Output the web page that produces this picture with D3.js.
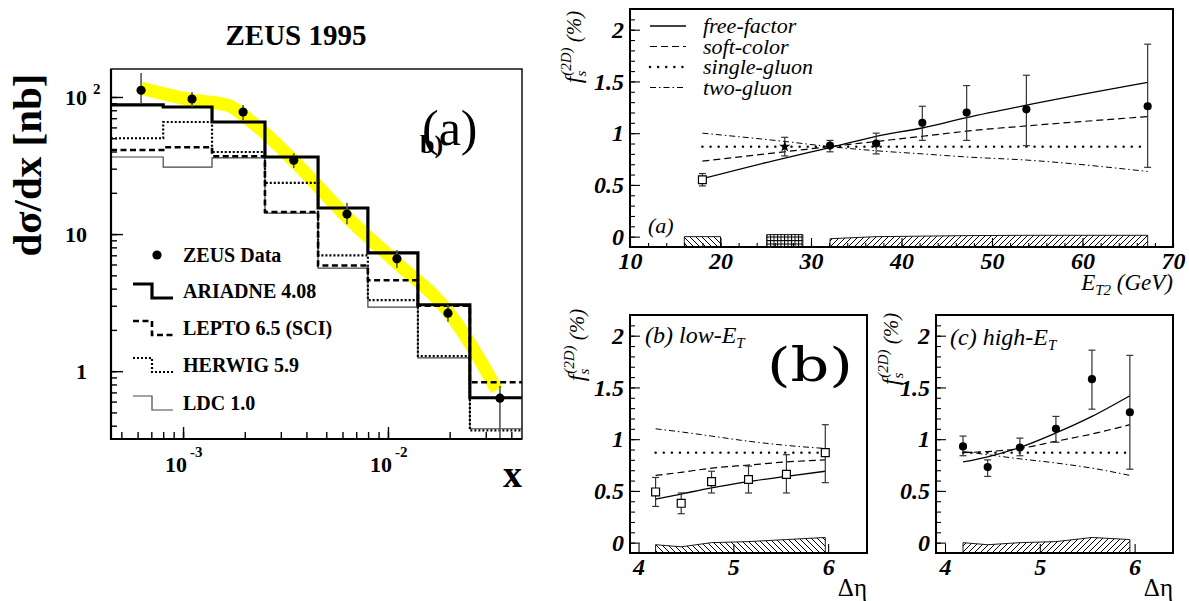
<!DOCTYPE html>
<html>
<head>
<meta charset="utf-8">
<script src="https://cdn.jsdelivr.net/npm/d3@7"></script>
<style>
body { margin: 0; background: #fff; }
svg { display: block; font-family: "Liberation Serif", "Times New Roman", serif; }
</style>
</head>
<body>
<div id="chart"></div>
<script>
// ---- left panel: ZEUS 1995 d(sigma)/dx ----
var binEdges = [4.45e-4, 8.0e-4, 1.385e-3, 2.51e-3, 4.56e-3, 7.98e-3, 1.40e-2, 2.51e-2, 4.51e-2];
var zeusX  = [6.24e-4, 1.106e-3, 1.963e-3, 3.47e-3, 6.31e-3, 1.106e-2, 1.963e-2, 3.52e-2];
var zeusY  = [112, 96.7, 77.7, 34.5, 14.0, 6.6, 2.65, 0.635];
var zeusLo = [90.4, 84.5, 67.9, 30.3, 11.8, 5.65, 2.29, 0.25];
var zeusHi = [149.6, 108.8, 87.4, 39.0, 16.9, 7.65, 3.05, 0.78];

var ariadne = [87.5, 84.5, 65.7, 36.5, 15.5, 7.3, 3.05, 0.64];
var lepto   = [41, 43, 37, 14.5, 5.9, 4.6, 3.0, 0.83];
var herwig  = [50, 65.7, 39.7, 23.6, 7.0, 3.3, 1.29, 0.37];
var ldc     = [36.5, 30.8, 36.0, 14.2, 5.65, 2.93, 1.25, 0.38];
var mcNames = ["ARIADNE 4.08", "LEPTO 6.5 (SCI)", "HERWIG 5.9", "LDC 1.0"];

var bandX = [6.24e-4, 1.106e-3, 1.64e-3, 2.19e-3, 2.57e-3, 3.44e-3, 6.31e-3, 1.106e-2, 1.94e-2, 2.51e-2, 3.4e-2];
var bandY = [116, 95.1, 87.4, 64.6, 52.8, 34.7, 13.3, 6.14, 2.79, 1.6, 0.73];

var yTicksLeft = [1, 10, 100];
var yTickBase = ["1", "10", "10"];
var yTickExp = ["", "", "2"];
var xTicksLeft = [1e-3, 1e-2];
var xTickExp = ["-3", "-2"];

// ---- right panels: f_s(2D) ----
var modelNames = ["free-factor", "soft-color", "single-gluon", "two-gluon"];

var etX    = [18, 27.1, 32.1, 37.2, 42.3, 47.2, 53.8, 67.2];
var etY    = [0.55, 0.87, 0.88, 0.90, 1.10, 1.20, 1.23, 1.26];
var etLo   = [0.49, 0.78, 0.82, 0.80, 0.93, 0.93, 0.88, 0.67];
var etHi   = [0.61, 0.96, 0.93, 1.00, 1.26, 1.46, 1.56, 1.86];
var etMarker = ["square", "star", "circle", "circle", "circle", "circle", "circle", "circle"];
var etFree   = [0.56, 0.76, 0.86, 0.97, 1.05, 1.15, 1.27, 1.49];
var etSoft   = [0.73, 0.82, 0.87, 0.92, 0.97, 1.02, 1.07, 1.16];
var etSingle = [0.87, 0.87, 0.87, 0.87, 0.87, 0.87, 0.87, 0.87];
var etTwo    = [1.00, 0.92, 0.87, 0.83, 0.80, 0.77, 0.74, 0.63];
var etSysAX = [16, 20],     etSysATop = [0.0, 0.0];
var etSysBX = [25.1, 29.1], etSysBTop = [0.02, 0.02];
var etSysCX = [32.1, 37.2, 42.3, 47.2, 53.8, 67.2], etSysCTop = [-0.02, 0.0, 0.005, 0.01, 0.013, 0.013];
var etTicks = [10, 20, 30, 40, 50, 60, 70];

var lowX    = [4.18, 4.45, 4.77, 5.16, 5.56, 5.97];
var lowY    = [0.49, 0.38, 0.59, 0.61, 0.66, 0.87];
var lowLo   = [0.35, 0.28, 0.48, 0.48, 0.48, 0.58];
var lowHi   = [0.63, 0.48, 0.69, 0.74, 0.85, 1.14];
var lowFree   = [0.42, 0.47, 0.53, 0.59, 0.64, 0.69];
var lowSoft   = [0.65, 0.68, 0.72, 0.75, 0.78, 0.80];
var lowSingle = [0.87, 0.87, 0.87, 0.87, 0.87, 0.87];
var lowTwo    = [1.10, 1.07, 1.03, 0.98, 0.94, 0.91];
var lowSysTop = [-0.02, -0.04, 0.0, 0.01, 0.03, 0.05];

var highX   = [4.19, 4.45, 4.79, 5.17, 5.55, 5.95];
var highY   = [0.93, 0.73, 0.92, 1.10, 1.58, 1.26];
var highLo  = [0.84, 0.64, 0.84, 0.97, 1.29, 0.71];
var highHi  = [1.03, 0.80, 1.01, 1.22, 1.86, 1.81];
var highFree   = [0.78, 0.83, 0.92, 1.06, 1.22, 1.42];
var highSoft   = [0.87, 0.88, 0.91, 0.98, 1.05, 1.14];
var highSingle = [0.87, 0.87, 0.87, 0.87, 0.87, 0.87];
var highTwo    = [0.88, 0.85, 0.81, 0.77, 0.72, 0.65];
var highSysTop = [0.0, -0.02, 0.0, 0.01, 0.05, 0.03];
var detaTicks = [4, 5, 6];

var fsTicks = [0, 0.5, 1, 1.5, 2];


var svg = d3.select("#chart").append("svg")
    .attr("width", 1189)
    .attr("height", 601);
var defs = svg.append("defs");

function addPattern(id, size, d) {
    var p = defs.append("pattern")
        .attr("id", id)
        .attr("patternUnits", "userSpaceOnUse")
        .attr("width", size).attr("height", size);
    p.append("path").attr("d", d)
        .attr("stroke", "#000").attr("stroke-width", 1).attr("fill", "none");
}
addPattern("hatchBack", 6, "M0,0L6,6M-1,5L1,7M5,-1L7,1");
addPattern("hatchFwd", 6, "M0,6L6,0M-1,1L1,-1M5,7L7,5");
addPattern("hatchGrid", 3.5, "M0,0.5H3.5M0.5,0V3.5");


/*
 * Left panel
 */
var L = { left: 111, right: 522, top: 69, bottom: 439 };
var xL = d3.scaleLog().domain([binEdges[0], binEdges[binEdges.length - 1]]).range([L.left, L.right]);
var yL = d3.scaleLog().domain([0.32, 160]).range([L.bottom, L.top]);

defs.append("clipPath").attr("id", "clipL").append("rect")
    .attr("x", L.left).attr("y", L.top)
    .attr("width", L.right - L.left).attr("height", L.bottom - L.top);

var gL = svg.append("g");
var plotL = gL.append("g").attr("clip-path", "url(#clipL)");

plotL.append("path")
    .datum(d3.zip(bandX, bandY))
    .attr("d", d3.line().x(function(d) { return xL(d[0]); }).y(function(d) { return yL(d[1]); }).curve(d3.curveMonotoneX))
    .attr("fill", "none")
    .attr("stroke", "#ffff00")
    .attr("stroke-width", 13);

var histLine = d3.line()
    .x(function(d) { return xL(d[0]); })
    .y(function(d) { return yL(d[1]); })
    .curve(d3.curveStepAfter);

function histPoints(vals) {
    var p = vals.map(function(v, i) { return [binEdges[i], v]; });
    p.push([binEdges[vals.length], vals[vals.length - 1]]);
    return p;
}

var mcStyles = [
    { w: 3.2, dash: null, color: "#000" },
    { w: 2.6, dash: "6,3.5", color: "#000" },
    { w: 2.2, dash: "2,2", color: "#000" },
    { w: 1.2, dash: null, color: "#444" }
];
var mcSeries = [ariadne, lepto, herwig, ldc];

[3, 2, 1, 0].forEach(function(i) {
    plotL.append("path")
        .datum(histPoints(mcSeries[i]))
        .attr("d", histLine)
        .attr("fill", "none")
        .attr("stroke", mcStyles[i].color)
        .attr("stroke-width", mcStyles[i].w)
        .attr("stroke-dasharray", mcStyles[i].dash);
});

var zeus = d3.range(zeusX.length).map(function(i) {
    return { x: zeusX[i], y: zeusY[i], lo: zeusLo[i], hi: zeusHi[i] };
});
plotL.selectAll(".zerr").data(zeus).enter().append("line")
    .attr("class", "zerr")
    .attr("x1", function(d) { return xL(d.x); })
    .attr("x2", function(d) { return xL(d.x); })
    .attr("y1", function(d) { return yL(d.lo); })
    .attr("y2", function(d) { return yL(d.hi); })
    .attr("stroke", "#555").attr("stroke-width", 1.6);
plotL.selectAll(".zdot").data(zeus).enter().append("circle")
    .attr("class", "zdot")
    .attr("cx", function(d) { return xL(d.x); })
    .attr("cy", function(d) { return yL(d.y); })
    .attr("r", 4.6)
    .attr("fill", "#000");

// axes of left panel (ticks point inward)
var yMinorL = d3.axisLeft(yL).tickValues(yL.ticks()).tickSize(-6).tickFormat("");
var yMajorL = d3.axisLeft(yL).tickValues(yTicksLeft).tickSize(-12).tickFormat("");
var xMinorL = d3.axisBottom(xL).tickValues(xL.ticks()).tickSize(-7).tickFormat("");
var xMajorL = d3.axisBottom(xL).tickValues(xTicksLeft).tickSize(-12).tickFormat("");

[yMinorL, yMajorL].forEach(function(ax) {
    gL.append("g").attr("class", "axis").attr("transform", "translate(" + L.left + ",0)").call(ax.tickSizeOuter(0));
});
[xMinorL, xMajorL].forEach(function(ax) {
    gL.append("g").attr("class", "axis").attr("transform", "translate(0," + L.bottom + ")").call(ax.tickSizeOuter(0));
});
gL.selectAll(".axis .domain").remove();
gL.selectAll(".axis line").attr("stroke", "#000").attr("stroke-width", 1.4);

gL.append("rect")
    .attr("x", L.left).attr("y", L.top)
    .attr("width", L.right - L.left).attr("height", L.bottom - L.top)
    .attr("fill", "none").attr("stroke", "#000").attr("stroke-width", 1.4);
gL.append("path")
    .attr("d", "M" + L.left + "," + L.top + "V" + L.bottom + "H" + L.right)
    .attr("fill", "none").attr("stroke", "#000").attr("stroke-width", 2.2);

yTicksLeft.forEach(function(v, i) {
    gL.append("text")
        .attr("x", 87).attr("y", yL(v) + 8)
        .attr("text-anchor", "end")
        .attr("font-weight", "bold").attr("font-size", 22)
        .text(yTickBase[i]);
    if (yTickExp[i]) {
        gL.append("text")
            .attr("x", 93).attr("y", yL(v) - 3)
            .attr("font-weight", "bold").attr("font-size", 15)
            .text(yTickExp[i]);
    }
});
xTicksLeft.forEach(function(v, i) {
    gL.append("text")
        .attr("x", xL(v) + 4).attr("y", 472)
        .attr("text-anchor", "end")
        .attr("font-weight", "bold").attr("font-size", 22)
        .text("10");
    gL.append("text")
        .attr("x", xL(v) + 7).attr("y", 457)
        .attr("font-weight", "bold").attr("font-size", 15)
        .text(xTickExp[i]);
});

gL.append("text")
    .attr("x", 296).attr("y", 45)
    .attr("text-anchor", "middle")
    .attr("font-weight", "bold").attr("font-size", 29)
    .text("ZEUS 1995");
gL.append("text")
    .attr("transform", "translate(41,165) rotate(-90)")
    .attr("text-anchor", "middle")
    .attr("font-weight", "bold").attr("font-size", 41)
    .text("dσ/dx [nb]");
gL.append("text")
    .attr("x", 522).attr("y", 487)
    .attr("text-anchor", "end")
    .attr("font-weight", "bold").attr("font-size", 38)
    .text("x");

gL.append("text")
    .attr("x", 420).attr("y", 153)
    .attr("font-weight", "bold").attr("font-size", 26)
    .text("b)");
gL.append("text")
    .attr("x", 422).attr("y", 145)
    .attr("font-size", 50)
    .text("(a)");

// legend
var legRows = [255, 291, 328, 365, 403];
gL.append("circle").attr("cx", 157).attr("cy", legRows[0]).attr("r", 4.6).attr("fill", "#000");
gL.append("text").attr("x", 183).attr("y", legRows[0] + 7)
    .attr("font-weight", "bold").attr("font-size", 20).text("ZEUS Data");
mcNames.forEach(function(name, i) {
    var ry = legRows[i + 1];
    gL.append("path")
        .attr("d", "M133," + (ry - 7) + "H152V" + (ry + 7) + "H173")
        .attr("fill", "none")
        .attr("stroke", mcStyles[i].color)
        .attr("stroke-width", mcStyles[i].w)
        .attr("stroke-dasharray", mcStyles[i].dash);
    gL.append("text").attr("x", 183).attr("y", ry + 7)
        .attr("font-weight", "bold").attr("font-size", 20).text(name);
});


/*
 * FractionVis - one f_s(2D) panel
 */
var modelStyles = [
    { w: 1.3, dash: null, cap: "butt" },
    { w: 1.2, dash: "7,4", cap: "butt" },
    { w: 2.4, dash: "0.1,8", cap: "round" },
    { w: 1.0, dash: "6,3,1.5,3", cap: "butt" }
];

FractionVis = function(_cfg) {
    this.cfg = _cfg;
    this.initVis();
};

FractionVis.prototype.initVis = function() {
    var vis = this, c = vis.cfg;

    vis.g = svg.append("g")
        .attr("transform", "translate(" + c.left + "," + c.top + ")");

    vis.x = d3.scaleLinear().domain(c.xDomain).range([0, c.width]);
    vis.y = d3.scaleLinear().domain([-0.1, 2.2]).range([c.height, 0]);

    // systematic bands
    var band = d3.area()
        .x(function(d) { return vis.x(d[0]); })
        .y0(vis.y(-0.1))
        .y1(function(d) { return vis.y(d[1]); });
    c.sys.forEach(function(s) {
        vis.g.append("path")
            .datum(d3.zip(s.x, s.top))
            .attr("d", band)
            .attr("fill", s.fill)
            .attr("stroke", "#000").attr("stroke-width", 0.9);
    });

    // model curves
    var line = d3.line()
        .x(function(d) { return vis.x(d[0]); })
        .y(function(d) { return vis.y(d[1]); })
        .curve(d3.curveMonotoneX);
    c.models.forEach(function(m, i) {
        vis.g.append("path")
            .datum(d3.zip(c.modelX, m))
            .attr("d", line)
            .attr("fill", "none")
            .attr("stroke", "#000")
            .attr("stroke-width", modelStyles[i].w)
            .attr("stroke-dasharray", modelStyles[i].dash)
            .attr("stroke-linecap", modelStyles[i].cap);
    });

    // data points
    var pts = d3.range(c.px.length).map(function(i) {
        return { x: c.px[i], y: c.py[i], lo: c.plo[i], hi: c.phi[i], m: c.marker[i] };
    });
    var err = vis.g.selectAll(".err").data(pts).enter().append("g").attr("class", "err")
        .attr("stroke", "#333").attr("stroke-width", 1.2);
    err.append("line")
        .attr("x1", function(d) { return vis.x(d.x); }).attr("x2", function(d) { return vis.x(d.x); })
        .attr("y1", function(d) { return vis.y(d.lo); }).attr("y2", function(d) { return vis.y(d.hi); });
    err.append("line")
        .attr("x1", function(d) { return vis.x(d.x) - 3.5; }).attr("x2", function(d) { return vis.x(d.x) + 3.5; })
        .attr("y1", function(d) { return vis.y(d.lo); }).attr("y2", function(d) { return vis.y(d.lo); });
    err.append("line")
        .attr("x1", function(d) { return vis.x(d.x) - 3.5; }).attr("x2", function(d) { return vis.x(d.x) + 3.5; })
        .attr("y1", function(d) { return vis.y(d.hi); }).attr("y2", function(d) { return vis.y(d.hi); });

    var symbols = { circle: d3.symbolCircle, square: d3.symbolSquare, star: d3.symbolStar };
    var sizes = { circle: 52, square: 62, star: 40 };
    vis.g.selectAll(".pt").data(pts).enter().append("path")
        .attr("class", "pt")
        .attr("transform", function(d) { return "translate(" + vis.x(d.x) + "," + vis.y(d.y) + ")"; })
        .attr("d", function(d) { return d3.symbol().type(symbols[d.m]).size(sizes[d.m])(); })
        .attr("fill", function(d) { return d.m === "square" ? "#fff" : "#000"; })
        .attr("stroke", "#000")
        .attr("stroke-width", function(d) { return d.m === "square" ? 1.2 : 0; });

    // axes
    var yMinor = d3.axisLeft(vis.y).tickValues(d3.range(0, 22).map(function(k) { return k / 10; }))
        .tickSize(-5).tickSizeOuter(0).tickFormat("");
    var yMajor = d3.axisLeft(vis.y).tickValues(fsTicks)
        .tickSize(-10).tickSizeOuter(0).tickPadding(6).tickFormat(d3.format(""));
    var xMinor = d3.axisBottom(vis.x).tickValues(c.xMinor)
        .tickSize(-4).tickSizeOuter(0).tickFormat("");
    var xMajor = d3.axisBottom(vis.x).tickValues(c.xTicks)
        .tickSize(-9).tickSizeOuter(0).tickPadding(4).tickFormat(d3.format(""));

    vis.g.append("g").attr("class", "axis").call(yMinor);
    vis.g.append("g").attr("class", "axis").call(yMajor);
    vis.g.append("g").attr("class", "axis xaxis").attr("transform", "translate(0," + c.height + ")").call(xMinor);
    vis.g.append("g").attr("class", "axis xaxis").attr("transform", "translate(0," + c.height + ")").call(xMajor);
    vis.g.selectAll(".axis .domain").remove();
    vis.g.selectAll(".axis line").attr("stroke", "#000").attr("stroke-width", 1.1);
    vis.g.selectAll(".axis text")
        .attr("font-family", "'Liberation Serif', serif")
        .attr("font-size", 24)
        .attr("font-style", "italic")
        .attr("font-weight", "bold")
        .attr("fill", "#000");
    vis.g.selectAll(".xaxis text").attr("dy", "0.76em");

    vis.g.append("rect")
        .attr("width", c.width).attr("height", c.height)
        .attr("fill", "none").attr("stroke", "#000").attr("stroke-width", 2);

    // y title f_s^(2D) (%)
    var t = svg.append("text")
        .attr("transform", "translate(" + c.yTitleX + "," + c.yTitleY + ") rotate(-90)")
        .attr("text-anchor", "middle")
        .attr("font-style", "italic");
    t.append("tspan").attr("font-size", 24).text("f");
    t.append("tspan").attr("font-size", 15).attr("dy", 5).text("s");
    t.append("tspan").attr("font-size", 15).attr("dx", -5).attr("dy", -15).text("(2D)");
    t.append("tspan").attr("font-size", 21).attr("dy", 10).text(" (%)");
};


new FractionVis({
    left: 630, top: 9, width: 543, height: 238,
    xDomain: [10, 70], xTicks: etTicks, xMinor: d3.range(10, 71, 2),
    px: etX, py: etY, plo: etLo, phi: etHi, marker: etMarker,
    modelX: etX, models: [etFree, etSoft, etSingle, etTwo],
    sys: [
        { x: etSysAX, top: etSysATop, fill: "url(#hatchBack)" },
        { x: etSysBX, top: etSysBTop, fill: "url(#hatchGrid)" },
        { x: etSysCX, top: etSysCTop, fill: "url(#hatchFwd)" }
    ],
    yTitleX: 581, yTitleY: 47
});

new FractionVis({
    left: 630, top: 315, width: 237, height: 238,
    xDomain: [3.91, 6.41], xTicks: detaTicks, xMinor: [],
    px: lowX, py: lowY, plo: lowLo, phi: lowHi, marker: lowX.map(function() { return "square"; }),
    modelX: lowX, models: [lowFree, lowSoft, lowSingle, lowTwo],
    sys: [{ x: lowX, top: lowSysTop, fill: "url(#hatchBack)" }],
    yTitleX: 584, yTitleY: 345
});

new FractionVis({
    left: 936, top: 315, width: 237, height: 238,
    xDomain: [3.905, 6.405], xTicks: detaTicks, xMinor: [],
    px: highX, py: highY, plo: highLo, phi: highHi, marker: highX.map(function() { return "circle"; }),
    modelX: highX, models: [highFree, highSoft, highSingle, highTwo],
    sys: [{ x: highX, top: highSysTop, fill: "url(#hatchFwd)" }],
    yTitleX: 898, yTitleY: 349
});

// legend of the E_T2 panel
modelNames.forEach(function(name, i) {
    var ry = 26 + i * 20.5;
    svg.append("line")
        .attr("x1", 650).attr("x2", 686).attr("y1", ry).attr("y2", ry)
        .attr("stroke", "#000")
        .attr("stroke-width", modelStyles[i].w)
        .attr("stroke-dasharray", modelStyles[i].dash)
        .attr("stroke-linecap", modelStyles[i].cap);
    svg.append("text")
        .attr("x", 703).attr("y", ry + 7)
        .attr("font-style", "italic").attr("font-size", 22)
        .text(name);
});

// panel captions and axis titles
svg.append("text").attr("x", 648).attr("y", 233)
    .attr("font-style", "italic").attr("font-size", 22).text("(a)");

var etTitle = svg.append("text").attr("x", 1173).attr("y", 290)
    .attr("text-anchor", "end").attr("font-style", "italic").attr("font-size", 23);
etTitle.append("tspan").text("E");
etTitle.append("tspan").attr("font-size", 15).attr("dy", 5).text("T2");
etTitle.append("tspan").attr("dy", -5).text(" (GeV)");

[867, 1173].forEach(function(xr) {
    svg.append("text").attr("x", xr).attr("y", 596)
        .attr("text-anchor", "end").attr("font-size", 25).text("Δη");
});

var capB = svg.append("text").attr("x", 645).attr("y", 343)
    .attr("font-style", "italic").attr("font-size", 24);
capB.append("tspan").text("(b) low-E");
capB.append("tspan").attr("font-size", 15).attr("dy", 5).text("T");

var capC = svg.append("text").attr("x", 950).attr("y", 345)
    .attr("font-style", "italic").attr("font-size", 24);
capC.append("tspan").text("(c) high-E");
capC.append("tspan").attr("font-size", 15).attr("dy", 5).text("T");

svg.append("text").attr("x", 767).attr("y", 381)
    .attr("font-family", "'DejaVu Serif', serif")
    .attr("font-size", 46)
    .attr("textLength", 86).attr("lengthAdjust", "spacingAndGlyphs")
    .text("(b)");
</script>
</body>
</html>
